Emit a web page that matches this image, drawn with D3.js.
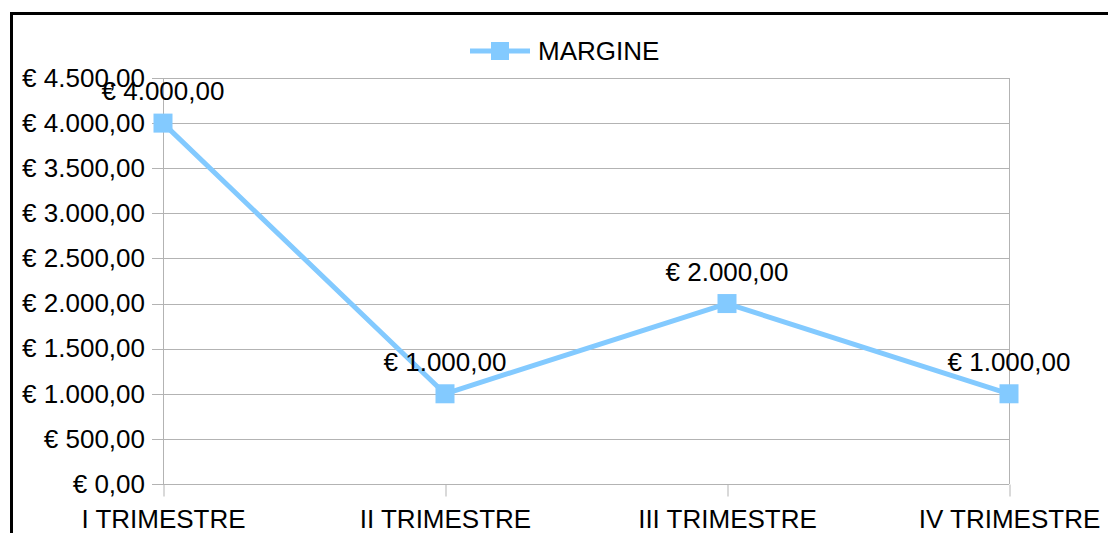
<!DOCTYPE html>
<html>
<head>
<meta charset="utf-8">
<script src="https://cdn.jsdelivr.net/npm/d3@7"></script>
<style>
  body { margin: 0; background: #fff; }
  svg { display: block; font-family: "Liberation Sans", Arial, sans-serif; }
</style>
</head>
<body>
<svg id="chart" width="1108" height="533"></svg>
<script>
// chart data
const categories = ['I TRIMESTRE', 'II TRIMESTRE', 'III TRIMESTRE', 'IV TRIMESTRE'];
const margine = [4000, 1000, 2000, 1000];
const seriesName = 'MARGINE';
const yTicks = [0, 500, 1000, 1500, 2000, 2500, 3000, 3500, 4000, 4500];

const lineColor = '#83caff';
const gridColor = '#b3b3b3';
const fontSize = 26;

// € 1.000,00 style formatting
const euro = d3.formatLocale({
  decimal: ',',
  thousands: '.',
  grouping: [3],
  currency: ['€ ', ''],
});
const fmt = euro.format('$,.2f');

const svg = d3.select('#chart');

// outer frame (runs past the right and bottom edge)
svg.append('rect')
    .attr('x', 11.5)
    .attr('y', 13.5)
    .attr('width', 1200)
    .attr('height', 600)
    .attr('fill', 'none')
    .attr('stroke', '#000')
    .attr('stroke-width', 3);

const plot = {left: 163, right: 1009, top: 78, bottom: 484};

const x = d3.scalePoint()
    .domain(categories)
    .range([plot.left, plot.right])
    .padding(0);

const y = d3.scaleLinear()
    .domain([0, 4500])
    .range([plot.bottom, plot.top]);

// horizontal gridlines
svg.append('g')
    .selectAll('line')
    .data(yTicks)
    .join('line')
    .attr('x1', plot.left - 11)
    .attr('x2', plot.right)
    .attr('y1', (d) => Math.round(y(d)) + 0.5)
    .attr('y2', (d) => Math.round(y(d)) + 0.5)
    .attr('stroke', gridColor)
    .attr('stroke-width', 1);

// left and right sides of the plot area
svg.append('g')
    .selectAll('line')
    .data([plot.left, plot.right])
    .join('line')
    .attr('x1', (d) => d + 0.5)
    .attr('x2', (d) => d + 0.5)
    .attr('y1', plot.top)
    .attr('y2', plot.bottom)
    .attr('stroke', gridColor);

// y axis labels
const yAxis = d3.axisLeft(y)
    .tickValues(yTicks)
    .tickFormat(fmt)
    .tickSize(0)
    .tickPadding(18);

svg.append('g')
    .attr('transform', `translate(${plot.left},0)`)
    .call(yAxis)
    .call((g) => g.select('.domain').remove())
    .call((g) => g.selectAll('text')
        .attr('font-size', fontSize)
        .attr('font-family', '"Liberation Sans", Arial, sans-serif')
        .attr('fill', '#000'));

// x axis with ticks below the baseline
const xAxis = d3.axisBottom(x)
    .tickSize(12)
    .tickPadding(13);

svg.append('g')
    .attr('transform', `translate(0,${Math.round(plot.bottom) + 0.5})`)
    .call(xAxis)
    .call((g) => g.select('.domain').remove())
    .call((g) => g.selectAll('.tick line')
        .attr('stroke', gridColor)
        .attr('transform', 'translate(0.5,0)'))
    .call((g) => g.selectAll('text')
        .attr('font-size', fontSize)
        .attr('font-family', '"Liberation Sans", Arial, sans-serif')
        .attr('fill', '#000'));

// series line
const points = categories.map((c, i) => ({cat: c, value: margine[i]}));

svg.append('path')
    .datum(points)
    .attr('fill', 'none')
    .attr('stroke', lineColor)
    .attr('stroke-width', 5)
    .attr('stroke-linejoin', 'round')
    .attr('d', d3.line()
        .x((d) => x(d.cat))
        .y((d) => y(d.value)));

const markerSize = 19;
svg.append('g')
    .selectAll('rect')
    .data(points)
    .join('rect')
    .attr('x', (d) => x(d.cat) - markerSize / 2)
    .attr('y', (d) => y(d.value) - markerSize / 2)
    .attr('width', markerSize)
    .attr('height', markerSize)
    .attr('fill', lineColor);

// data labels
svg.append('g')
    .selectAll('text')
    .data(points)
    .join('text')
    .attr('x', (d) => x(d.cat))
    .attr('y', (d) => y(d.value) - 23)
    .attr('text-anchor', 'middle')
    .attr('font-size', fontSize)
    .attr('fill', '#000')
    .text((d) => fmt(d.value));

// legend
const legend = svg.append('g').attr('transform', 'translate(470,51)');
legend.append('line')
    .attr('x1', 0)
    .attr('x2', 60)
    .attr('stroke', lineColor)
    .attr('stroke-width', 5);
legend.append('rect')
    .attr('x', 21)
    .attr('y', -9)
    .attr('width', 18)
    .attr('height', 18)
    .attr('fill', lineColor);
legend.append('text')
    .attr('x', 68)
    .attr('y', 9)
    .attr('font-size', fontSize)
    .attr('fill', '#000')
    .text(seriesName);
</script>
</body>
</html>
